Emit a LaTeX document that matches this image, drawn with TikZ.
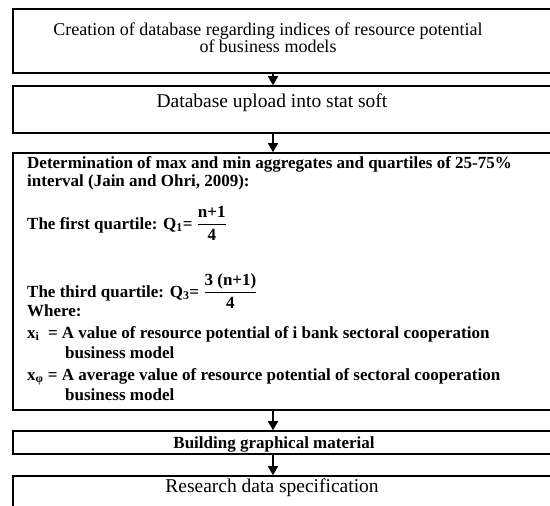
\documentclass[tikz,border=0pt]{standalone}
\usepackage{fontspec}
\setmainfont{Liberation Serif}
\usetikzlibrary{arrows.meta}

\tikzset{
  box/.style={draw, line width=1.6bp, minimum width=560bp, inner sep=0pt},
  plainline/.style={inner sep=0pt, font=\fontsize{18bp}{17bp}\selectfont},
  bigline/.style={inner sep=0pt, anchor=base, font=\fontsize{19.5bp}{20bp}\selectfont},
  boldline/.style={inner sep=0pt, anchor=base west, font=\fontsize{17bp}{20bp}\selectfont\bfseries},
  flow/.style={line width=1.6bp, -{Triangle[width=10bp,length=9bp]}}
}

\begin{document}
\begin{tikzpicture}[x=1bp,y=-1bp]
\useasboundingbox (0,0) rectangle (550,506);
\clip (0,0) rectangle (550,506);

% boxes, the right edges run off the page
\node[box, minimum height=64bp]  (b1) at (293,41) {};
\node[box, minimum height=47bp]  (b2) at (293,109.5) {};
\node[box, minimum height=257bp] (b3) at (293,281.5) {};
\node[box, minimum height=23bp]  (b4) at (293,442.5) {};
\node[box, minimum height=60bp]  (b5) at (293,506) {};
\coordinate (axis) at (273,0);

% one line texts
\node[plainline, align=center] (t1) at (268,38)
   {Creation of database regarding indices of resource potential\\of business models};
\node[bigline] (t2) at (272,108) {Database upload into stat soft};
\node[boldline, anchor=base] (t4) at (274,448) {Building graphical material};
\node[bigline] (t5) at (272,492) {Research data specification};

% text of the third box
\node[boldline] (d1) at (27,169) {Determination of max and min aggregates and quartiles of 25-75\%};
\node[boldline] (d2) at (27,187) {interval (Jain and Ohri, 2009):};
\node[boldline] (q1) at (27,229)
   {The first quartile: Q\textsubscript{1}= $\displaystyle\frac{\mbox{n+1}}{\mbox{4}}$};
\node[boldline] (q3) at (27,297)
   {The third quartile: Q\textsubscript{3}= $\displaystyle\frac{\mbox{3 (n+1)}}{\mbox{4}}$};
\node[boldline] (w)   at (27,316) {Where:};
\node[boldline] (xi)  at (27,338) {x\textsubscript{i} \ = A value of resource potential of i bank sectoral cooperation};
\node[boldline] (xi2) at (65,358) {business model};
\node[boldline] (xp)  at (27,380) {x\textsubscript{φ} = A average value of resource potential of sectoral cooperation};
\node[boldline] (xp2) at (65,400) {business model};

% arrows
\draw[flow] (b1.south -| axis) -- (b2.north -| axis);
\draw[flow] (b2.south -| axis) -- (b3.north -| axis);
\draw[flow] (b3.south -| axis) -- (b4.north -| axis);
\draw[flow] (b4.south -| axis) -- (b5.north -| axis);

\end{tikzpicture}
\end{document}
